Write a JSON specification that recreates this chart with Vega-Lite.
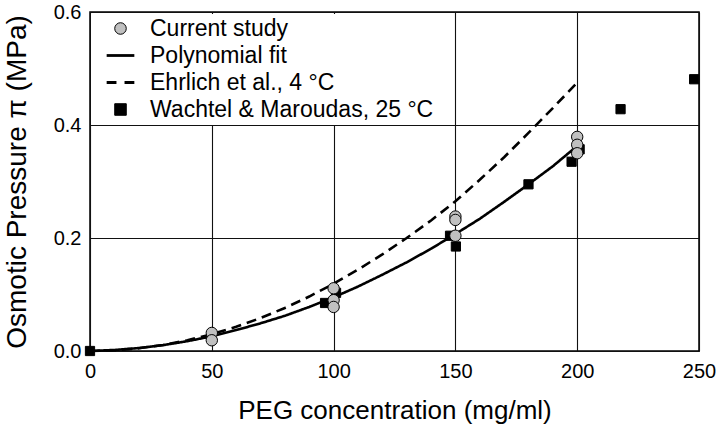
{
  "$schema": "https://vega.github.io/schema/vega-lite/v6.json",
  "width": 609,
  "height": 339,
  "autosize": {"type": "none"},
  "padding": {"left": 90, "top": 12, "right": 21, "bottom": 75},
  "background": "white",
  "datasets": {
    "curves": [
      {"x": 0, "y": 0, "series": "Polynomial fit"},
      {"x": 10, "y": 0.0018, "series": "Polynomial fit"},
      {"x": 20, "y": 0.0052, "series": "Polynomial fit"},
      {"x": 30, "y": 0.0104, "series": "Polynomial fit"},
      {"x": 40, "y": 0.0174, "series": "Polynomial fit"},
      {"x": 50, "y": 0.026, "series": "Polynomial fit"},
      {"x": 60, "y": 0.037, "series": "Polynomial fit"},
      {"x": 70, "y": 0.049, "series": "Polynomial fit"},
      {"x": 80, "y": 0.0623, "series": "Polynomial fit"},
      {"x": 90, "y": 0.078, "series": "Polynomial fit"},
      {"x": 100, "y": 0.095, "series": "Polynomial fit"},
      {"x": 110, "y": 0.114, "series": "Polynomial fit"},
      {"x": 120, "y": 0.135, "series": "Polynomial fit"},
      {"x": 130, "y": 0.157, "series": "Polynomial fit"},
      {"x": 140, "y": 0.181, "series": "Polynomial fit"},
      {"x": 150, "y": 0.207, "series": "Polynomial fit"},
      {"x": 160, "y": 0.234, "series": "Polynomial fit"},
      {"x": 170, "y": 0.264, "series": "Polynomial fit"},
      {"x": 180, "y": 0.295, "series": "Polynomial fit"},
      {"x": 190, "y": 0.327, "series": "Polynomial fit"},
      {"x": 200, "y": 0.363, "series": "Polynomial fit"},
      {"x": 0, "y": 0, "series": "Ehrlich et al., 4 °C"},
      {"x": 10, "y": 0.0012, "series": "Ehrlich et al., 4 °C"},
      {"x": 20, "y": 0.0048, "series": "Ehrlich et al., 4 °C"},
      {"x": 30, "y": 0.0107, "series": "Ehrlich et al., 4 °C"},
      {"x": 40, "y": 0.019, "series": "Ehrlich et al., 4 °C"},
      {"x": 50, "y": 0.0298, "series": "Ehrlich et al., 4 °C"},
      {"x": 60, "y": 0.0428, "series": "Ehrlich et al., 4 °C"},
      {"x": 70, "y": 0.0583, "series": "Ehrlich et al., 4 °C"},
      {"x": 80, "y": 0.0762, "series": "Ehrlich et al., 4 °C"},
      {"x": 90, "y": 0.0964, "series": "Ehrlich et al., 4 °C"},
      {"x": 100, "y": 0.119, "series": "Ehrlich et al., 4 °C"},
      {"x": 110, "y": 0.144, "series": "Ehrlich et al., 4 °C"},
      {"x": 120, "y": 0.171, "series": "Ehrlich et al., 4 °C"},
      {"x": 130, "y": 0.2, "series": "Ehrlich et al., 4 °C"},
      {"x": 140, "y": 0.231, "series": "Ehrlich et al., 4 °C"},
      {"x": 150, "y": 0.265, "series": "Ehrlich et al., 4 °C"},
      {"x": 160, "y": 0.303, "series": "Ehrlich et al., 4 °C"},
      {"x": 170, "y": 0.343, "series": "Ehrlich et al., 4 °C"},
      {"x": 180, "y": 0.386, "series": "Ehrlich et al., 4 °C"},
      {"x": 190, "y": 0.43, "series": "Ehrlich et al., 4 °C"},
      {"x": 200, "y": 0.475, "series": "Ehrlich et al., 4 °C"}
    ],
    "points": [
      {"x": 0, "y": 0, "series": "Wachtel & Maroudas, 25 °C"},
      {"x": 96.5, "y": 0.085, "series": "Wachtel & Maroudas, 25 °C"},
      {"x": 101, "y": 0.103, "series": "Wachtel & Maroudas, 25 °C"},
      {"x": 147.8, "y": 0.204, "series": "Wachtel & Maroudas, 25 °C"},
      {"x": 150.2, "y": 0.185, "series": "Wachtel & Maroudas, 25 °C"},
      {"x": 180, "y": 0.295, "series": "Wachtel & Maroudas, 25 °C"},
      {"x": 197.7, "y": 0.335, "series": "Wachtel & Maroudas, 25 °C"},
      {"x": 201, "y": 0.357, "series": "Wachtel & Maroudas, 25 °C"},
      {"x": 217.8, "y": 0.428, "series": "Wachtel & Maroudas, 25 °C"},
      {"x": 248, "y": 0.481, "series": "Wachtel & Maroudas, 25 °C"},
      {"x": 50, "y": 0.032, "series": "Current study"},
      {"x": 50, "y": 0.019, "series": "Current study"},
      {"x": 100, "y": 0.111, "series": "Current study"},
      {"x": 100, "y": 0.09, "series": "Current study"},
      {"x": 100, "y": 0.078, "series": "Current study"},
      {"x": 150, "y": 0.238, "series": "Current study"},
      {"x": 150, "y": 0.232, "series": "Current study"},
      {"x": 150, "y": 0.204, "series": "Current study"},
      {"x": 200, "y": 0.379, "series": "Current study"},
      {"x": 200, "y": 0.365, "series": "Current study"},
      {"x": 200, "y": 0.35, "series": "Current study"}
    ]
  },
  "encoding": {
    "x": {
      "field": "x", "type": "quantitative",
      "scale": {"domain": [0, 250], "nice": false, "zero": false},
      "axis": {
        "title": "PEG concentration (mg/ml)",
        "values": [0, 50, 100, 150, 200, 250],
        "grid": true, "ticks": false, "domain": false, "labelFlush": false,
        "labelPadding": 10, "labelFontSize": 20,
        "titleFontSize": 26, "titleBaseline": "alphabetic", "titleY": 67
      }
    },
    "y": {
      "field": "y", "type": "quantitative",
      "scale": {"domain": [0, 0.6], "nice": false},
      "axis": {
        "title": "Osmotic Pressure π (MPa)",
        "values": [0, 0.2, 0.4, 0.6], "format": ".1f",
        "grid": true, "ticks": false, "domain": false, "labelFlush": false,
        "labelPadding": 9, "labelFontSize": 20,
        "titleFontSize": 28, "titleBaseline": "alphabetic", "titleX": -65, "titleY": 169.5, "titleAngle": -90
      }
    }
  },
  "layer": [
    {
      "data": {"name": "curves"},
      "mark": {"type": "line", "color": "black", "strokeWidth": 2.6},
      "encoding": {
        "strokeDash": {
          "field": "series", "type": "nominal",
          "scale": {"domain": ["Polynomial fit", "Ehrlich et al., 4 °C"], "range": [[1, 0], [10, 6]]},
          "legend": null
        }
      }
    },
    {
      "data": {"name": "points"},
      "mark": {"type": "point", "filled": true, "opacity": 1},
      "encoding": {
        "shape": {
          "field": "series", "type": "nominal", "title": null,
          "scale": {
            "domain": ["Current study", "Polynomial fit", "Ehrlich et al., 4 °C", "Wachtel & Maroudas, 25 °C"],
            "range": ["circle", "M-2.4,0H2.4", "M-2.4,0H-0.7M0.7,0H2.4", "square"]
          },
          "legend": {"fillColor": "white"}
        },
        "fill": {
          "field": "series", "type": "nominal", "title": null,
          "scale": {
            "domain": ["Current study", "Polynomial fit", "Ehrlich et al., 4 °C", "Wachtel & Maroudas, 25 °C"],
            "range": ["#c0c0c0", "#000000", "#000000", "#000000"]
          }
        },
        "stroke": {
          "field": "series", "type": "nominal", "title": null,
          "scale": {
            "domain": ["Current study", "Polynomial fit", "Ehrlich et al., 4 °C", "Wachtel & Maroudas, 25 °C"],
            "range": ["#000000", "#000000", "#000000", "#000000"]
          }
        },
        "strokeWidth": {
          "field": "series", "type": "nominal", "title": null,
          "scale": {
            "type": "ordinal",
            "domain": ["Current study", "Polynomial fit", "Ehrlich et al., 4 °C", "Wachtel & Maroudas, 25 °C"],
            "range": [1, 2.8, 2.8, 1]
          }
        },
        "size": {
          "condition": {"test": "datum.series == 'Current study'", "value": 130},
          "value": 85
        }
      }
    }
  ],
  "config": {
    "font": "Liberation Sans",
    "view": {"stroke": "black", "strokeWidth": 1.5},
    "axis": {
      "gridColor": "#111111", "gridOpacity": 1, "gridWidth": 1.1,
      "labelColor": "black", "titleColor": "black",
      "titleFontWeight": "normal", "labelFont": "Liberation Sans", "titleFont": "Liberation Sans"
    },
    "legend": {
      "orient": "none", "legendX": 1, "legendY": 2,
      "fillColor": "white", "padding": 3,
      "labelFont": "Liberation Sans", "labelFontSize": 23, "labelColor": "black", "labelLimit": 0,
      "rowPadding": 3, "symbolOffset": 15, "labelOffset": 18, "symbolSize": 133,
      "symbolType": "circle"
    }
  }
}
